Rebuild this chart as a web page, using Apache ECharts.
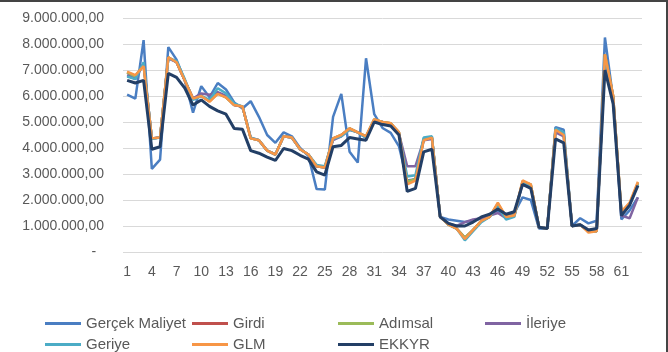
<!DOCTYPE html>
<html>
<head>
<meta charset="utf-8">
<script src="https://cdn.jsdelivr.net/npm/echarts@6/dist/echarts.min.js"></script>
<style>
  html, body { margin: 0; padding: 0; background: #fff; }
  #frame { position: relative; width: 668px; height: 352px; box-sizing: border-box; border-top: 2px solid #444; border-right: 2px solid #444; }
  #chart { position: absolute; left: 0; top: -2px; width: 668px; height: 352px; }
</style>
</head>
<body>
<div id="frame"><div id="chart"></div></div>
<script>
// kategoriler 1..63
var categories = [];
for (var k = 1; k <= 63; k++) categories.push(String(k));

// değerler milyon TL cinsinden
var gercekMaliyet = [6.05, 5.9, 8.15, 3.2, 3.55, 7.88, 7.4, 6.6, 5.36, 6.38, 5.95, 6.5, 6.25, 5.75, 5.52, 5.8, 5.2, 4.5, 4.2, 4.6, 4.45, 4.0, 3.7, 2.42, 2.4, 5.2, 6.08, 3.86, 3.44, 7.45, 5.3, 4.77, 4.58, 4.06, 2.75, 2.8, 4.3, 4.4, 1.35, 1.25, 1.2, 1.15, 1.2, 1.3, 1.45, 1.6, 1.35, 1.5, 2.1, 2.0, 0.9, 0.9, 4.8, 4.7, 1.0, 1.3, 1.1, 1.2, 8.25, 5.9, 1.25, 1.6, 2.1];
var girdi = [6.9, 6.75, 7.2, 4.37, 4.4, 7.49, 7.3, 6.6, 5.9, 6.0, 5.8, 6.1, 5.95, 5.65, 5.6, 4.37, 4.3, 3.9, 3.75, 4.45, 4.4, 3.95, 3.75, 3.3, 3.25, 4.37, 4.5, 4.75, 4.6, 4.45, 5.1, 5.0, 4.95, 4.6, 2.7, 2.8, 4.35, 4.4, 1.35, 1.05, 0.9, 0.55, 0.85, 1.2, 1.35, 1.85, 1.35, 1.4, 2.7, 2.6, 0.95, 0.9, 4.7, 4.5, 1.0, 1.05, 0.8, 0.8, 7.6, 6.0, 1.5, 1.85, 2.65];
var adimsal = [6.9, 6.75, 7.2, 4.37, 4.4, 7.49, 7.3, 6.6, 5.9, 6.0, 5.8, 6.1, 5.95, 5.65, 5.6, 4.37, 4.3, 3.9, 3.75, 4.45, 4.4, 3.95, 3.75, 3.3, 3.25, 4.37, 4.5, 4.75, 4.6, 4.45, 5.1, 5.0, 4.95, 4.6, 2.7, 2.8, 4.35, 4.4, 1.35, 1.05, 0.9, 0.55, 0.85, 1.2, 1.35, 1.85, 1.35, 1.4, 2.7, 2.6, 0.95, 0.9, 4.7, 4.5, 1.0, 1.05, 0.8, 0.8, 7.6, 6.0, 1.5, 1.85, 2.65];
var ileriye = [6.8, 6.65, 7.25, 4.37, 4.4, 7.45, 7.3, 6.6, 5.9, 6.1, 6.05, 6.15, 6.0, 5.65, 5.6, 4.4, 4.3, 3.9, 3.75, 4.45, 4.4, 3.95, 3.75, 3.3, 3.25, 4.3, 4.45, 4.7, 4.6, 4.4, 5.05, 5.0, 4.9, 4.55, 3.3, 3.3, 4.3, 4.35, 1.35, 1.1, 1.0, 1.15, 1.25, 1.3, 1.4, 1.5, 1.3, 1.4, 2.65, 2.5, 0.95, 0.9, 4.6, 4.45, 1.0, 1.05, 0.85, 0.85, 7.4, 5.9, 1.4, 1.3, 2.1];
var geriye = [6.75, 6.65, 7.3, 4.35, 4.4, 7.45, 7.35, 6.65, 5.85, 6.0, 5.85, 6.3, 6.1, 5.7, 5.6, 4.4, 4.3, 3.9, 3.75, 4.45, 4.4, 3.95, 3.75, 3.35, 3.3, 4.35, 4.45, 4.7, 4.6, 4.4, 5.05, 5.0, 4.9, 4.55, 2.9, 2.95, 4.4, 4.45, 1.35, 1.05, 0.9, 0.45, 0.8, 1.15, 1.35, 1.75, 1.25, 1.35, 2.7, 2.55, 0.95, 0.9, 4.75, 4.6, 1.0, 1.05, 0.8, 0.8, 7.5, 5.95, 1.5, 1.85, 2.6];
var glm = [6.94, 6.8, 7.15, 4.37, 4.4, 7.49, 7.3, 6.6, 5.9, 6.0, 5.78, 6.08, 5.95, 5.65, 5.6, 4.37, 4.3, 3.9, 3.75, 4.45, 4.4, 3.95, 3.75, 3.3, 3.25, 4.37, 4.5, 4.75, 4.6, 4.45, 5.1, 5.0, 4.95, 4.6, 2.6, 2.75, 4.3, 4.4, 1.35, 1.05, 0.9, 0.5, 0.85, 1.2, 1.35, 1.9, 1.35, 1.4, 2.75, 2.6, 0.95, 0.9, 4.7, 4.5, 1.0, 1.05, 0.75, 0.8, 7.6, 6.0, 1.55, 1.9, 2.7];
var ekkyr = [6.6, 6.5, 6.6, 3.95, 4.05, 6.87, 6.72, 6.3, 5.65, 5.85, 5.6, 5.43, 5.3, 4.75, 4.72, 3.9, 3.8, 3.65, 3.52, 3.98, 3.9, 3.72, 3.57, 3.08, 2.96, 4.05, 4.1, 4.4, 4.35, 4.3, 5.0, 4.9, 4.85, 4.5, 2.33, 2.45, 3.85, 3.95, 1.35, 1.1, 1.0, 1.0, 1.15, 1.35, 1.45, 1.65, 1.45, 1.55, 2.6, 2.45, 0.95, 0.9, 4.35, 4.2, 1.0, 1.05, 0.85, 0.9, 7.0, 5.7, 1.4, 1.8, 2.55];

var seriesNames = ["Gerçek Maliyet", "Girdi", "Adımsal", "İleriye", "Geriye", "GLM", "EKKYR"];
var seriesData = [gercekMaliyet, girdi, adimsal, ileriye, geriye, glm, ekkyr];
var colors = ["#4A7EC2", "#C0504D", "#9BBB59", "#8064A2", "#4BACC6", "#F79646", "#233F66"];
var yTicks = [0, 1, 2, 3, 4, 5, 6, 7, 8, 9];

var chart = echarts.init(document.getElementById("chart"));

function fmtTL(v) {
  if (v === 0) return "-  ";
  var s = String(Math.round(v * 1000000)).replace(/\B(?=(\d{3})+(?!\d))/g, ".");
  return s + ",00";
}

// lejant: iki satır, dört sütun
var legendPos = [[40, 311], [187, 311], [333, 311], [480, 311], [40, 332], [187, 332], [333, 332]];
var legends = seriesNames.map(function(name, i) {
  return {
    left: legendPos[i][0],
    top: legendPos[i][1],
    data: [name],
    icon: "rect",
    itemWidth: 36,
    itemHeight: 3,
    itemGap: 4,
    selectedMode: false,
    textStyle: { color: "#595959", fontSize: 15, fontFamily: "Liberation Sans" }
  };
});

var option = {
  animation: false,
  color: colors,
  legend: legends,
  grid: { left: 123, right: 26, top: 18, bottom: 100, containLabel: false },
  xAxis: {
    type: "category",
    boundaryGap: true,
    data: categories,
    axisLine: { show: false },
    axisTick: { show: false },
    axisLabel: { interval: 2, color: "#595959", fontSize: 14, fontFamily: "Liberation Sans", margin: 13 }
  },
  yAxis: {
    type: "value",
    min: yTicks[0],
    max: yTicks[yTicks.length - 1],
    interval: 1,
    axisLine: { show: false },
    axisTick: { show: false },
    splitLine: { lineStyle: { color: "#D9D9D9", width: 1 } },
    axisLabel: { formatter: fmtTL, color: "#595959", fontSize: 14, fontFamily: "Liberation Sans", margin: 19 }
  },
  series: seriesNames.map(function(name, i) {
    return {
      name: name,
      type: "line",
      data: seriesData[i],
      showSymbol: false,
      symbol: "none",
      lineStyle: { width: i === 6 ? 3 : 2.5, color: colors[i] },
      itemStyle: { color: colors[i] }
    };
  })
};
chart.setOption(option);
</script>
</body>
</html>
